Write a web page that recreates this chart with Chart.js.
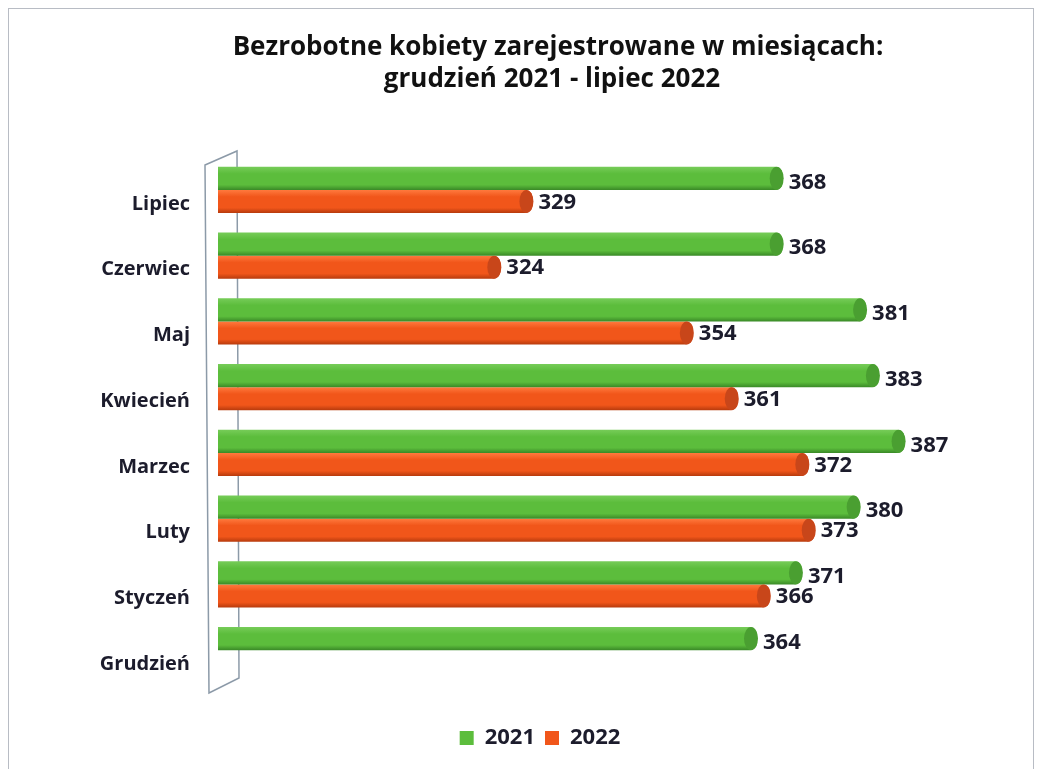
<!DOCTYPE html>
<html>
<head>
<meta charset="utf-8">
<script src="https://cdn.jsdelivr.net/npm/chart.js@4"></script>
<style>
  html, body { margin: 0; padding: 0; background: #fff; }
  #wrap { width: 1041px; height: 769px; }
</style>
</head>
<body>
<div id="wrap"><canvas id="barChart"></canvas></div>
<script>
const months = ["Lipiec", "Czerwiec", "Maj", "Kwiecień", "Marzec", "Luty", "Styczeń", "Grudzień"];
const values2021 = [368, 368, 381, 383, 387, 380, 371, 364];
const values2022 = [329, 324, 354, 361, 372, 373, 366, null];
const titleLines = ["Bezrobotne kobiety zarejestrowane w miesiącach:", "grudzień 2021 - lipiec 2022"];

const FONT = "'Open Sans', sans-serif";
// light, mid, dark, cap
const shades = [
    ["#76cc58", "#5cbd3c", "#3a8a27", "#4a9f31"],
    ["#ff7a3e", "#f1561a", "#b83b0d", "#c8461a"]
];

// frame, title, left 3d wall, and the round look of the bars
const decor = {
    id: "decor",
    beforeDatasetsDraw(chart) {
        const ctx = chart.ctx;
        const a = chart.chartArea;
        ctx.save();
        ctx.strokeStyle = "#8c9aa8";
        ctx.lineWidth = 1.5;
        ctx.beginPath();
        ctx.moveTo(a.left - 13, a.top + 8);
        ctx.lineTo(a.left + 19, a.top - 6);
        ctx.lineTo(a.left + 21, a.bottom - 5);
        ctx.lineTo(a.left - 9, a.bottom + 10);
        ctx.closePath();
        ctx.stroke();
        ctx.restore();

        // gradient per bar, so it looks like a cylinder
        chart.data.datasets.forEach((ds, i) => {
            const s = shades[i];
            chart.getDatasetMeta(i).data.forEach(bar => {
                if (!isFinite(bar.y) || !isFinite(bar.height)) return;
                const y0 = bar.y - bar.height / 2;
                const g = ctx.createLinearGradient(0, y0, 0, y0 + bar.height);
                g.addColorStop(0, s[0]);
                g.addColorStop(0.3, s[1]);
                g.addColorStop(0.78, s[1]);
                g.addColorStop(1, s[2]);
                bar.options.backgroundColor = g;
            });
        });
    },
    afterDatasetsDraw(chart) {
        const ctx = chart.ctx;
        chart.data.datasets.forEach((ds, i) => {
            chart.getDatasetMeta(i).data.forEach((bar, j) => {
                if (ds.data[j] == null) return;
                ctx.save();
                ctx.fillStyle = shades[i][3];
                ctx.beginPath();
                ctx.ellipse(bar.x - 6, bar.y, 7, bar.height / 2, 0, 0, Math.PI * 2);
                ctx.fill();
                ctx.fillStyle = "#1c1c2c";
                ctx.font = "bold 22px " + FONT;
                ctx.textAlign = "left";
                ctx.textBaseline = "middle";
                ctx.fillText(String(ds.data[j]), bar.x + 6, bar.y + (i === 0 ? 4 : 1));
                ctx.restore();
            });
        });
    },
    afterDraw(chart) {
        const ctx = chart.ctx;
        ctx.save();
        ctx.strokeStyle = "#b8bcc4";
        ctx.lineWidth = 1;
        ctx.strokeRect(8.5, 8.5, 1025, 770);
        ctx.fillStyle = "#111";
        ctx.font = "bold 26px " + FONT;
        ctx.textAlign = "center";
        ctx.textBaseline = "middle";
        ctx.fillText(titleLines[0], 558, 48);
        ctx.fillText(titleLines[1], 552, 80);
        ctx.restore();
    }
};

new Chart(document.getElementById("barChart"), {
    type: "bar",
    data: {
        labels: months,
        datasets: [{
            label: "2021",
            data: values2021,
            // scriptable so every bar keeps its own options object
            backgroundColor: () => shades[0][1],
            borderSkipped: false,
            borderRadius: 7,
            barPercentage: 1,
            categoryPercentage: 0.7
        }, {
            label: "2022",
            data: values2022,
            backgroundColor: () => shades[1][1],
            borderSkipped: false,
            borderRadius: 7,
            barPercentage: 1,
            categoryPercentage: 0.7
        }]
    },
    options: {
        indexAxis: "y",
        responsive: true,
        maintainAspectRatio: false,
        animation: false,
        layout: { padding: { top: 157, left: 92, right: 53, bottom: 10 } },
        scales: {
            x: {
                min: 280,
                max: 400,
                grid: { display: false },
                border: { display: false },
                ticks: { display: false },
                afterFit(scale) { scale.height = 34; }
            },
            y: {
                grid: { display: false },
                border: { display: false },
                ticks: {
                    color: "#1c1c2c",
                    font: { family: FONT, size: 20, weight: "bold" },
                    padding: 20,
                    labelOffset: 14
                },
                afterFit(scale) { scale.width = 126; }
            }
        },
        plugins: {
            legend: {
                position: "bottom",
                labels: {
                    color: "#1c1c2c",
                    font: { family: FONT, size: 22, weight: "bold" },
                    boxWidth: 14,
                    boxHeight: 14,
                    padding: 10,
                    generateLabels(chart) {
                        return chart.data.datasets.map((d, i) => ({
                            text: d.label,
                            fillStyle: shades[i][1],
                            strokeStyle: shades[i][1],
                            lineWidth: 0,
                            datasetIndex: i,
                            fontColor: "#1c1c2c"
                        }));
                    }
                }
            },
            tooltip: { enabled: false }
        }
    },
    plugins: [decor]
});
</script>
</body>
</html>
